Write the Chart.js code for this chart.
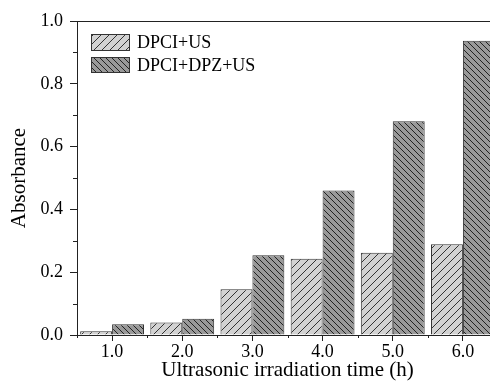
<!DOCTYPE html>
<html>
<head>
<meta charset="utf-8">
<script src="https://cdn.jsdelivr.net/npm/chart.js@4.4.1/dist/chart.umd.min.js"></script>
<style>
  html, body { margin: 0; padding: 0; background: #fff; overflow: hidden; width: 490px; height: 389px; }
  canvas { display: block; }
</style>
</head>
<body>
<canvas id="absChart" width="500" height="389"></canvas>
<script>
// données
const categories = ['1.0', '2.0', '3.0', '4.0', '5.0', '6.0'];
const dpciUs = [0.012, 0.040, 0.146, 0.243, 0.262, 0.289];
const dpciDpzUs = [0.034, 0.052, 0.254, 0.460, 0.681, 0.937];
const yTicks = [0, 0.2, 0.4, 0.6, 0.8, 1.0];

const serif = "'Liberation Serif', 'Times New Roman', serif";

// motif hachuré pour les barres
function hatch(bg, line, size, forward) {
    const c = document.createElement('canvas');
    c.width = size;
    c.height = size;
    const g = c.getContext('2d');
    g.fillStyle = bg;
    g.fillRect(0, 0, size, size);
    g.strokeStyle = line;
    g.lineWidth = 1;
    g.beginPath();
    if (forward) {
        g.moveTo(0, size); g.lineTo(size, 0);
        g.moveTo(-1, 1); g.lineTo(1, -1);
        g.moveTo(size - 1, size + 1); g.lineTo(size + 1, size - 1);
    } else {
        g.moveTo(0, 0); g.lineTo(size, size);
        g.moveTo(size - 1, -1); g.lineTo(size + 1, 1);
        g.moveTo(-1, size - 1); g.lineTo(1, size + 1);
    }
    g.stroke();
    return g.createPattern(c, 'repeat');
}

const ctx = document.getElementById('absChart').getContext('2d');
const lightPattern = hatch('#d2d2d2', '#333', 8, true);
const darkPattern = hatch('#999999', '#222', 6, false);

// petites graduations, cadre et légende
const extras = {
    id: 'extras',
    afterDraw(chart) {
        const c = chart.ctx;
        const a = chart.chartArea;
        const x = chart.scales.x;
        const y = chart.scales.y;
        c.save();
        c.strokeStyle = '#222';
        c.lineWidth = 1;
        c.beginPath();
        // cadre haut et droit
        c.moveTo(a.left, a.top + 0.5); c.lineTo(a.right, a.top + 0.5);
        c.moveTo(a.right + 0.5, a.top); c.lineTo(a.right + 0.5, a.bottom);
        // graduations mineures Y
        for (let v = 0.1; v < 1.0; v += 0.2) {
            const py = Math.round(y.getPixelForValue(v)) + 0.5;
            c.moveTo(a.left - 4, py); c.lineTo(a.left, py);
        }
        // graduations mineures X (entre les catégories)
        for (let i = 0; i <= categories.length; i++) {
            const px = Math.round(x.getPixelForValue(i - 0.5)) + 0.5;
            c.moveTo(px, a.bottom); c.lineTo(px, a.bottom + 3);
        }
        c.stroke();

        // légende
        const items = chart.data.datasets;
        const boxes = [{ y: a.top + 13, h: 17 }, { y: a.top + 36, h: 16 }];
        c.font = '18px ' + serif;
        c.textBaseline = 'middle';
        c.textAlign = 'left';
        items.forEach((ds, i) => {
            const b = boxes[i];
            c.fillStyle = ds.backgroundColor;
            c.fillRect(a.left + 14, b.y, 39, b.h);
            c.strokeStyle = '#333';
            c.strokeRect(a.left + 14.5, b.y + 0.5, 38, b.h - 1);
            c.fillStyle = '#000';
            c.fillText(ds.label, a.left + 60, b.y + b.h / 2 + 1);
        });
        c.restore();
    }
};

new Chart(ctx, {
    type: 'bar',
    data: {
        labels: categories,
        datasets: [
            {
                label: 'DPCI+US',
                data: dpciUs,
                backgroundColor: lightPattern,
                borderColor: '#333',
                borderWidth: 1
            },
            {
                label: 'DPCI+DPZ+US',
                data: dpciDpzUs,
                backgroundColor: darkPattern,
                borderColor: '#333',
                borderWidth: 1
            }
        ]
    },
    options: {
        responsive: false,
        animation: false,
        devicePixelRatio: 1,
        layout: { padding: { top: 21, right: 2, left: 0, bottom: 0 } },
        datasets: {
            bar: { categoryPercentage: 0.91, barPercentage: 1.0 }
        },
        plugins: {
            legend: { display: false },
            tooltip: { enabled: false }
        },
        scales: {
            x: {
                offset: true,
                grid: {
                    offset: false,
                    drawOnChartArea: false,
                    drawTicks: true,
                    tickLength: 6,
                    color: '#222'
                },
                border: { display: true, color: '#222', width: 1 },
                ticks: {
                    color: '#000',
                    font: { family: serif, size: 18 },
                    padding: 0,
                    maxRotation: 0
                },
                title: {
                    display: true,
                    text: 'Ultrasonic irradiation time (h)',
                    color: '#000',
                    font: { family: serif, size: 21 },
                    padding: { top: 0, bottom: 6 }
                },
                afterFit(scale) { scale.height = 54; }
            },
            y: {
                min: 0,
                max: 1.0,
                afterBuildTicks(scale) {
                    scale.ticks = yTicks.map(v => ({ value: v }));
                },
                grid: {
                    drawOnChartArea: false,
                    drawTicks: true,
                    tickLength: 7,
                    color: '#222'
                },
                border: { display: true, color: '#222', width: 1 },
                ticks: {
                    color: '#000',
                    font: { family: serif, size: 18 },
                    padding: 7,
                    callback: v => Number(v).toFixed(1)
                },
                title: {
                    display: true,
                    text: 'Absorbance',
                    color: '#000',
                    font: { family: serif, size: 21 },
                    padding: { top: 7, bottom: 0 }
                },
                afterFit(scale) { scale.width = 77; }
            }
        }
    },
    plugins: [extras]
});
</script>
</body>
</html>
